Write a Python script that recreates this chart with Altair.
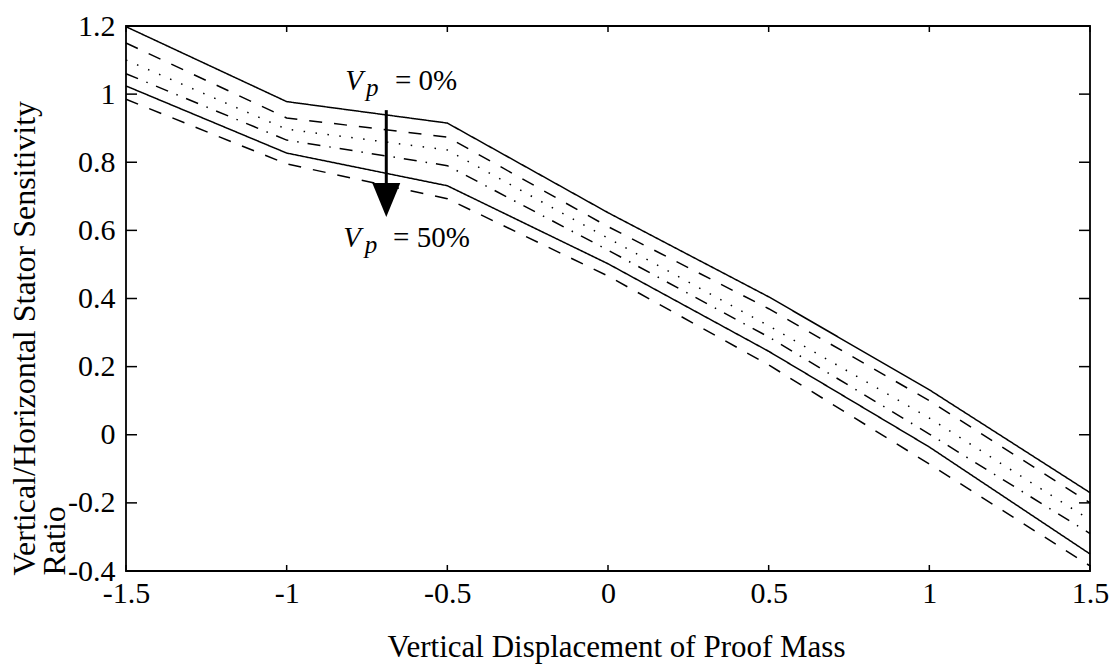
import altair as alt
import pandas as pd

# ---------------- data ----------------
x_vals = [-1.5, -1.0, -0.5, 0.0, 0.5, 1.0, 1.5]

series_names = ["Vp = 0%", "Vp = 10%", "Vp = 20%", "Vp = 30%", "Vp = 40%", "Vp = 50%"]
vp0 = [1.198, 0.978, 0.915, 0.652, 0.405, 0.132, -0.170]
vp10 = [1.150, 0.930, 0.874, 0.611, 0.370, 0.100, -0.200]
vp20 = [1.100, 0.897, 0.836, 0.577, 0.320, 0.049, -0.250]
vp30 = [1.060, 0.865, 0.790, 0.542, 0.287, 0.002, -0.290]
vp40 = [1.024, 0.827, 0.731, 0.502, 0.245, -0.036, -0.350]
vp50 = [0.985, 0.795, 0.693, 0.466, 0.205, -0.086, -0.385]
series_values = [vp0, vp10, vp20, vp30, vp40, vp50]
series_dashes = [[1, 0], [13, 12], [1.5, 10.5], [13, 9, 1.5, 9], [1, 0], [13, 12]]

x_ticks = [-1.5, -1.0, -0.5, 0.0, 0.5, 1.0, 1.5]
y_ticks = [-0.4, -0.2, 0.0, 0.2, 0.4, 0.6, 0.8, 1.0, 1.2]

x_title = "Vertical Displacement of Proof Mass"
y_title = ["Vertical/Horizontal Stator Sensitivity", "Ratio"]

# annotations (data coordinates)
ann_x_v = [-0.818, -0.824]
ann_y_v = [1.012, 0.551]
ann_x_p = [-0.753, -0.757]
ann_y_p = [0.994, 0.534]
ann_x_rest = [-0.663, -0.669]
ann_y_rest = [1.012, 0.551]
ann_rest = ["= 0%", "= 50%"]
arrow_x = [-0.69]
arrow_y_top = [0.953]
arrow_y_bottom = [0.722]
arrow_head_y = [0.689]

# ---------------- build chart ----------------
rows = []
for name, ys in zip(series_names, series_values):
    for x, y in zip(x_vals, ys):
        rows.append({"x": x, "y": y, "series": name})
df = pd.DataFrame(rows)

W, H = 964, 545
FONT = "Liberation Serif"

xscale = alt.Scale(domain=[-1.5, 1.5], nice=False, zero=False)
yscale = alt.Scale(domain=[-0.4, 1.2], nice=False, zero=False)
label_expr = "datum.value < 0 ? '-' + format(-datum.value, '~g') : format(datum.value, '~g')"

x_axis = alt.Axis(
    values=x_ticks, labelExpr=label_expr, title=x_title, grid=False,
    domain=False, ticks=False, tickSize=0, labelPadding=7,
    labelFlush=False, labelOverlap=False,
    labelFont=FONT, labelFontSize=30, labelColor="black",
    titleFont=FONT, titleFontSize=31, titleFontWeight="normal", titleColor="black",
    titleX=490, titleY=85, titleBaseline="alphabetic", titleAlign="center",
)
y_axis = alt.Axis(
    values=y_ticks, labelExpr=label_expr, title=y_title, grid=False,
    domain=False, ticks=False, tickSize=0, labelPadding=11,
    labelFlush=False, labelOverlap=False,
    labelFont=FONT, labelFontSize=30, labelColor="black",
    titleFont=FONT, titleFontSize=32, titleFontWeight="normal", titleColor="black",
    titleAngle=270, titleAlign="left", titleBaseline="alphabetic",
    titleX=-92, titleY=549, titleLineHeight=30,
)

X = alt.X("x:Q", scale=xscale, axis=x_axis)
Y = alt.Y("y:Q", scale=yscale, axis=y_axis)

lines = alt.Chart(df).mark_line(color="black", strokeWidth=1.5).encode(
    x=X,
    y=Y,
    strokeDash=alt.StrokeDash(
        "series:N",
        scale=alt.Scale(domain=series_names, range=series_dashes),
        legend=None,
    ),
)

xt = pd.DataFrame({"x": x_ticks})
yt = pd.DataFrame({"y": y_ticks})
tick_style = dict(color="black", strokeWidth=1.5)
bottom_ticks = alt.Chart(xt).mark_rule(**tick_style).encode(
    x=X, y=alt.value(H), y2=alt.value(H - 6))
top_ticks = alt.Chart(xt).mark_rule(**tick_style).encode(
    x=X, y=alt.value(0), y2=alt.value(6))
left_ticks = alt.Chart(yt).mark_rule(**tick_style).encode(
    y=Y, x=alt.value(0), x2=alt.value(11))
right_ticks = alt.Chart(yt).mark_rule(**tick_style).encode(
    y=Y, x=alt.value(W), x2=alt.value(W - 11))

v_df = pd.DataFrame({"x": ann_x_v, "y": ann_y_v, "t": ["V", "V"]})
p_df = pd.DataFrame({"x": ann_x_p, "y": ann_y_p, "t": ["p", "p"]})
r_df = pd.DataFrame({"x": ann_x_rest, "y": ann_y_rest, "t": ann_rest})

def text_layer(d, size, style):
    return alt.Chart(d).mark_text(
        font=FONT, fontSize=size, fontStyle=style, align="left",
        baseline="alphabetic", color="black",
    ).encode(x=X, y=Y, text="t:N")

v_text = text_layer(v_df, 29, "italic")
p_text = text_layer(p_df, 25, "italic")
r_text = text_layer(r_df, 29, "normal")

shaft = alt.Chart(pd.DataFrame({"x": arrow_x, "y": arrow_y_top, "y2": arrow_y_bottom})).mark_rule(
    color="black", strokeWidth=3).encode(x=X, y=Y, y2="y2:Q")
head = alt.Chart(pd.DataFrame({"x": arrow_x, "y": arrow_head_y})).mark_point(
    shape="M-1,-1.21L1,-1.21L0,1.21Z", size=784, filled=True, color="black", opacity=1,
    strokeWidth=0).encode(x=X, y=Y)

chart = alt.layer(
    lines, bottom_ticks, top_ticks, left_ticks, right_ticks,
    v_text, p_text, r_text, shaft, head,
).properties(
    width=W, height=H,
    autosize=alt.AutoSizeParams(type="none"),
    padding={"left": 126, "top": 26, "right": 27, "bottom": 97},
    background="white",
).configure_view(stroke="black", strokeWidth=1.8)

chart.save("out.html", embed_options={"renderer": "svg", "actions": False})
